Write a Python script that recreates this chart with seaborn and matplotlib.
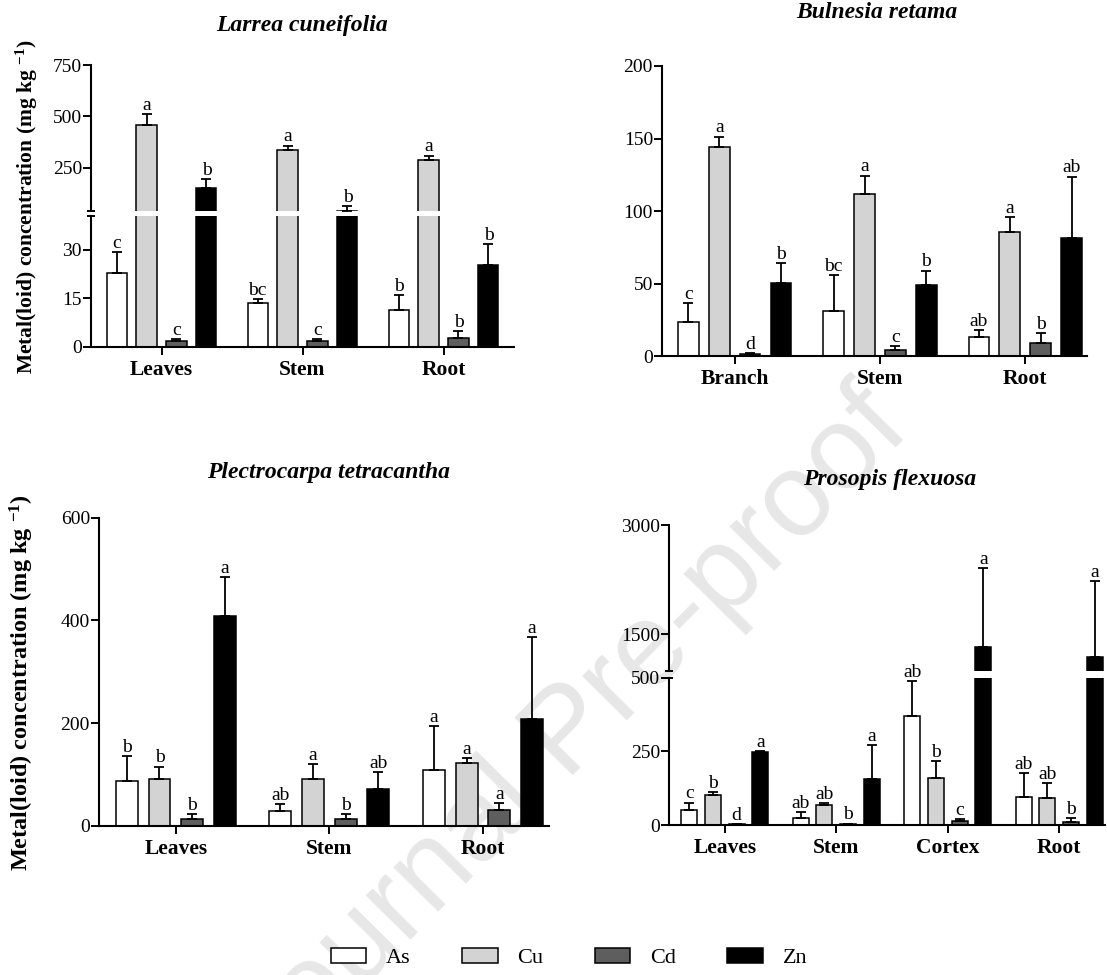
import numpy as np
import pandas as pd
import matplotlib
matplotlib.use("Agg")
import matplotlib.pyplot as plt
from matplotlib.patches import Patch
import seaborn as sns

# ---------------------------------------------------------------- data
metals = ["As", "Cu", "Cd", "Zn"]
metal_colors = ["#ffffff", "#d3d3d3", "#5e5e5e", "#000000"]

# Larrea cuneifolia
larrea_tissues = ["Leaves", "Stem", "Root"]
larrea_as = [23.0, 13.5, 11.5]
larrea_cu = [457.0, 335.0, 291.0]
larrea_cd = [1.8, 1.8, 2.7]
larrea_zn = [152.0, 42.0, 25.4]
larrea_as_err = [6.3, 1.2, 4.6]
larrea_cu_err = [54.0, 24.0, 19.0]
larrea_cd_err = [0.6, 0.6, 2.3]
larrea_zn_err = [42.0, 23.0, 6.4]
larrea_as_sig = ["c", "bc", "b"]
larrea_cu_sig = ["a", "a", "a"]
larrea_cd_sig = ["c", "c", "b"]
larrea_zn_sig = ["b", "b", "b"]

# Bulnesia retama
bulnesia_tissues = ["Branch", "Stem", "Root"]
bulnesia_as = [23.2, 31.0, 13.3]
bulnesia_cu = [144.4, 111.5, 85.3]
bulnesia_cd = [1.5, 4.1, 8.7]
bulnesia_zn = [50.6, 49.0, 81.4]
bulnesia_as_err = [13.1, 24.9, 4.4]
bulnesia_cu_err = [6.9, 12.9, 10.3]
bulnesia_cd_err = [0.3, 3.0, 6.9]
bulnesia_zn_err = [13.3, 9.9, 42.3]
bulnesia_as_sig = ["c", "bc", "ab"]
bulnesia_cu_sig = ["a", "a", "a"]
bulnesia_cd_sig = ["d", "c", "b"]
bulnesia_zn_sig = ["b", "b", "ab"]

# Plectrocarpa tetracantha
plectro_tissues = ["Leaves", "Stem", "Root"]
plectro_as = [87.0, 28.0, 108.5]
plectro_cu = [90.4, 90.4, 122.7]
plectro_cd = [13.7, 12.3, 30.0]
plectro_zn = [409.0, 70.9, 208.5]
plectro_as_err = [49.4, 13.6, 85.5]
plectro_cu_err = [24.6, 29.2, 9.8]
plectro_cd_err = [9.1, 10.5, 13.6]
plectro_zn_err = [75.0, 33.7, 158.5]
plectro_as_sig = ["b", "ab", "a"]
plectro_cu_sig = ["b", "a", "a"]
plectro_cd_sig = ["b", "b", "a"]
plectro_zn_sig = ["a", "ab", "a"]

# Prosopis flexuosa
prosopis_tissues = ["Leaves", "Stem", "Cortex", "Root"]
prosopis_as = [51.0, 25.0, 369.0, 96.5]
prosopis_cu = [102.0, 68.0, 161.0, 93.0]
prosopis_cd = [3.0, 3.0, 13.6, 9.0]
prosopis_zn = [246.6, 157.0, 1330.0, 1193.0]
prosopis_as_err = [25.0, 18.0, 120.0, 79.5]
prosopis_cu_err = [9.5, 6.0, 57.0, 49.0]
prosopis_cd_err = [1.0, 2.0, 5.8, 14.0]
prosopis_zn_err = [3.4, 113.0, 1084.0, 1042.0]
prosopis_as_sig = ["c", "ab", "ab", "ab"]
prosopis_cu_sig = ["b", "ab", "b", "ab"]
prosopis_cd_sig = ["d", "b", "c", "b"]
prosopis_zn_sig = ["a", "a", "a", "a"]

y_label = "Metal(loid) concentration (mg kg $^{-1}$)"

# ---------------------------------------------------------------- style
sns.set_style("ticks")
plt.rcParams["font.family"] = ["Liberation Serif", "DejaVu Serif"]
plt.rcParams["mathtext.fontset"] = "custom"
plt.rcParams["mathtext.rm"] = "Liberation Serif:bold"
plt.rcParams["mathtext.it"] = "Liberation Serif:bold"
plt.rcParams["mathtext.bf"] = "Liberation Serif:bold"
plt.rcParams["axes.edgecolor"] = "black"
plt.rcParams["xtick.color"] = "black"
plt.rcParams["ytick.color"] = "black"
plt.rcParams["text.color"] = "black"

W, H = 1107, 975
fig = plt.figure(figsize=(W / 100, H / 100), dpi=100)
palette = dict(zip(metals, metal_colors))


def px_rect(left, right, top, bottom):
    """Axes rectangle from pixel edges measured from the top-left corner."""
    return [left / W, 1 - bottom / H, (right - left) / W, (bottom - top) / H]


def long_frame(tissues, values):
    rows = [(t, m, v) for m, vals in zip(metals, values) for t, v in zip(tissues, vals)]
    return pd.DataFrame(rows, columns=["Tissue", "Metal", "Value"])


def draw_bars(ax, df, tissues):
    """Grouped bars; returns the x centre of every (tissue, metal) bar."""
    sns.barplot(data=df, x="Tissue", y="Value", hue="Metal", order=tissues,
                hue_order=metals, palette=palette, errorbar=None, width=0.85,
                gap=0.33, edgecolor="black", linewidth=1.1, legend=False, ax=ax)
    groups = {}
    for p in ax.patches:
        xc = p.get_x() + p.get_width() / 2
        groups.setdefault(int(round(xc)), []).append(xc)
    centers = {}
    for c, xs in groups.items():
        for h, xc in enumerate(sorted(xs)):
            centers[(c, h)] = xc
    return centers


def style_axis(ax, xlim):
    ax.set_xlim(*xlim)
    ax.set_xlabel("")
    ax.set_ylabel("")
    for s in ("top", "right"):
        ax.spines[s].set_visible(False)
    for s in ("left", "bottom"):
        ax.spines[s].set_linewidth(1.5)
    ax.tick_params(axis="both", direction="out", length=5.5, width=1.4, labelsize=14)
    ax.tick_params(axis="y", pad=1)
    ax.tick_params(axis="x", pad=4)
    ax.patch.set_alpha(0)


def panel(rects, ylims, yticks, xlim, tissues, means, errs, sigs):
    """One species panel; two stacked rects give a broken y axis."""
    axes = [fig.add_axes(r) for r in rects]
    df = long_frame(tissues, means)
    n = len(tissues)
    centers_by_ax = []
    for ax, ylim, ticks in zip(axes, ylims, yticks):
        centers = draw_bars(ax, df, tissues)
        centers_by_ax.append(centers)
        for h in range(len(metals)):
            xs = [centers[(c, h)] for c in range(n)]
            ax.errorbar(xs, means[h], yerr=[np.zeros(n), errs[h]], fmt="none",
                        ecolor="black", elinewidth=1.3, capsize=3.3, capthick=1.3,
                        zorder=3)
        style_axis(ax, xlim)
        ax.set_ylim(*ylim)
        ax.set_yticks(ticks)
        ax.set_yticklabels([str(t) for t in ticks])

    # significance letters above each error bar, on the segment holding its top
    for h in range(len(metals)):
        for c in range(n):
            top = means[h][c] + errs[h][c]
            k = len(axes) - 1
            for i, ylim in enumerate(ylims):
                if ylim[0] <= top <= ylim[1]:
                    k = i
                    break
            axes[k].annotate(sigs[h][c], (centers_by_ax[k][(c, h)], top),
                             xytext=(0, 3), textcoords="offset points",
                             ha="center", va="baseline", fontsize=14)

    if len(axes) == 2:
        up, low = axes
        up.spines["bottom"].set_visible(False)
        up.tick_params(axis="x", bottom=False, labelbottom=False)
        up.plot([0], [0], transform=up.transAxes, marker="_", ms=6, mew=1.4,
                color="black", clip_on=False)
        low.plot([0], [1], transform=low.transAxes, marker="_", ms=6, mew=1.4,
                 color="black", clip_on=False)
    low = axes[-1]
    low.set_xticks(range(n))
    low.set_xticklabels(tissues, fontsize=15.5, fontweight="bold")
    return axes


# ---------------------------------------------------------------- panels
panel([px_rect(91, 514, 65, 211), px_rect(91, 514, 216, 347)],
      [(41, 750), (0, 40.5)], [[250, 500, 750], [0, 15, 30]], (-0.5, 2.5),
      larrea_tissues,
      [larrea_as, larrea_cu, larrea_cd, larrea_zn],
      [larrea_as_err, larrea_cu_err, larrea_cd_err, larrea_zn_err],
      [larrea_as_sig, larrea_cu_sig, larrea_cd_sig, larrea_zn_sig])

panel([px_rect(662, 1087, 66, 356)], [(0, 200)], [[0, 50, 100, 150, 200]],
      (-0.5, 2.425), bulnesia_tissues,
      [bulnesia_as, bulnesia_cu, bulnesia_cd, bulnesia_zn],
      [bulnesia_as_err, bulnesia_cu_err, bulnesia_cd_err, bulnesia_zn_err],
      [bulnesia_as_sig, bulnesia_cu_sig, bulnesia_cd_sig, bulnesia_zn_sig])

panel([px_rect(99, 549, 517.7, 825.7)], [(0, 600)], [[0, 200, 400, 600]],
      (-0.5, 2.43), plectro_tissues,
      [plectro_as, plectro_cu, plectro_cd, plectro_zn],
      [plectro_as_err, plectro_cu_err, plectro_cd_err, plectro_zn_err],
      [plectro_as_sig, plectro_cu_sig, plectro_cd_sig, plectro_zn_sig])

panel([px_rect(669, 1105, 525, 670.7), px_rect(669, 1105, 677.5, 825)],
      [(1000, 3000), (0, 500)], [[1500, 3000], [0, 250, 500]], (-0.5, 3.41),
      prosopis_tissues,
      [prosopis_as, prosopis_cu, prosopis_cd, prosopis_zn],
      [prosopis_as_err, prosopis_cu_err, prosopis_cd_err, prosopis_zn_err],
      [prosopis_as_sig, prosopis_cu_sig, prosopis_cd_sig, prosopis_zn_sig])

# ---------------------------------------------------------------- titles, labels
title_kw = dict(fontsize=17, fontweight="bold", fontstyle="italic", ha="center", va="center")
fig.text(302 / W, 1 - 25 / H, "Larrea cuneifolia", **title_kw)
fig.text(877 / W, 1 - 13 / H, "Bulnesia retama", **title_kw)
fig.text(329 / W, 1 - 473 / H, "Plectrocarpa tetracantha", **title_kw)
fig.text(890 / W, 1 - 480 / H, "Prosopis flexuosa", **title_kw)

fig.text(27 / W, 1 - 207 / H, y_label, rotation=90, fontsize=15.5,
         fontweight="bold", ha="center", va="center")
fig.text(22 / W, 1 - 683 / H, y_label, rotation=90, fontsize=17.5,
         fontweight="bold", ha="center", va="center")

# diagonal watermark behind the panels
fig.text(571 / W, 1 - 734 / H, "Journal Pre-proof", fontsize=85,
         family="Liberation Sans", color="#e7e7e7", rotation=45.4,
         rotation_mode="anchor", ha="center", va="center", zorder=-5)

# legend
handles = [Patch(facecolor=c, edgecolor="black", linewidth=1.1, label=m)
           for m, c in zip(metals, metal_colors)]
fig.legend(handles=handles, loc="center", bbox_to_anchor=(569 / W, 1 - 958 / H),
           ncol=4, frameon=False, fontsize=16, handlelength=1.6, handleheight=0.65,
           handletextpad=0.9, columnspacing=2.3)

fig.savefig("out.png", dpi=100)
